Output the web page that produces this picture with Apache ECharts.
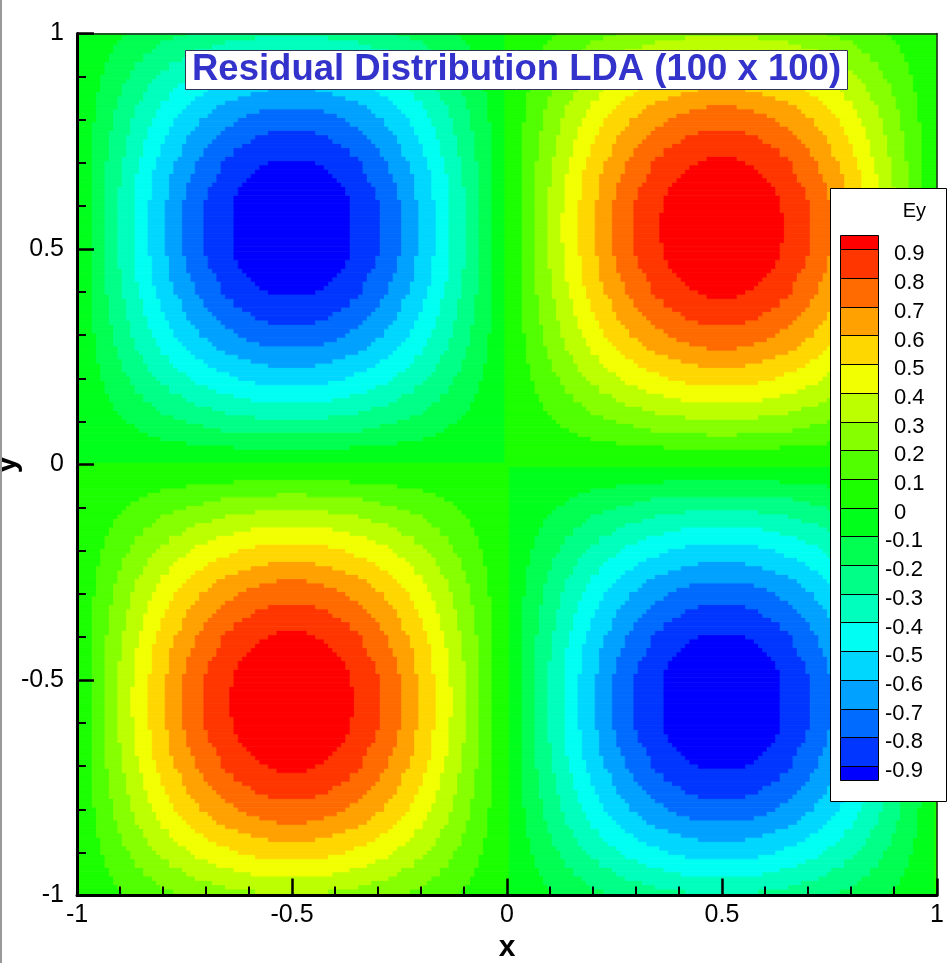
<!DOCTYPE html>
<html>
<head>
<meta charset="utf-8">
<script src="https://cdn.jsdelivr.net/npm/echarts@6/dist/echarts.min.js"></script>
<style>
html,body{margin:0;padding:0;background:#fff;}
#c{width:949px;height:963px;}
</style>
</head>
<body>
<div id="c"></div>
<script>
// ---------------- DATA ----------------
const chartTitle = 'Residual Distribution LDA (100 x 100)';
const legendTitle = 'Ey';
const xName = 'x';
const yName = 'y';
const xTicks = [-1, -0.5, 0, 0.5, 1];
const yTicks = [-1, -0.5, 0, 0.5, 1];

// contour levels shown in the legend
const levels = [-0.9, -0.8, -0.7, -0.6, -0.5, -0.4, -0.3, -0.2, -0.1, 0, 0.1, 0.2, 0.3, 0.4, 0.5, 0.6, 0.7, 0.8, 0.9];
// band colours, lowest band (< -0.9) first, highest band (>= 0.9) last
const levelColors = ['#0000FF', '#0036FF', '#006BFF', '#00A1FF', '#00D7FF', '#00FFF2', '#00FFBC', '#00FF86', '#00FF51', '#00FF1B',
                     '#1BFF00', '#51FF00', '#86FF00', '#BCFF00', '#F2FF00', '#FFD700', '#FFA100', '#FF6B00', '#FF3600', '#FF0000'];

// mesh: nodes from -1 to 1 with step 0.01
const meshMin = -1;
const meshStep = 0.01;

// Ey profile along x (read along the rows through the extrema), x = -1 .. 1
const xProfile = [
 0,-.03,-.06,-.09,-.13,-.16,-.19,-.22,-.25,-.28,
 -.31,-.34,-.37,-.4,-.43,-.45,-.48,-.51,-.54,-.56,
 -.59,-.61,-.64,-.66,-.68,-.71,-.73,-.75,-.77,-.79,
 -.81,-.83,-.84,-.86,-.88,-.89,-.9,-.92,-.93,-.94,
 -.95,-.96,-.97,-.98,-.98,-.99,-.99,-1,-1,-1,
 -1,
 -1,-1,-1,-.99,-.99,-.98,-.98,-.97,-.96,-.95,
 -.94,-.93,-.92,-.9,-.89,-.88,-.86,-.84,-.83,-.81,
 -.79,-.77,-.75,-.73,-.71,-.68,-.66,-.64,-.61,-.59,
 -.56,-.54,-.51,-.48,-.45,-.43,-.4,-.37,-.34,-.31,
 -.28,-.25,-.22,-.19,-.16,-.13,-.09,-.06,-.03,0,
 .03,.06,.09,.13,.16,.19,.22,.25,.28,.31,
 .34,.37,.4,.43,.45,.48,.51,.54,.56,.59,
 .61,.64,.66,.68,.71,.73,.75,.77,.79,.81,
 .83,.84,.86,.88,.89,.9,.92,.93,.94,.95,
 .96,.97,.98,.98,.99,.99,1,1,1,1,
 1,1,1,.99,.99,.98,.98,.97,.96,.95,
 .94,.93,.92,.9,.89,.88,.86,.84,.83,.81,
 .79,.77,.75,.73,.71,.68,.66,.64,.61,.59,
 .56,.54,.51,.48,.45,.43,.4,.37,.34,.31,
 .28,.25,.22,.19,.16,.13,.09,.06,.03,0
];

// Ey profile along y (read along the columns through the extrema), y = -1 .. 1
const yProfile = [
 -.28,-.31,-.34,-.36,-.39,-.42,-.44,-.47,-.49,-.52,
 -.54,-.56,-.59,-.61,-.63,-.65,-.68,-.7,-.72,-.74,
 -.76,-.77,-.79,-.81,-.83,-.84,-.86,-.87,-.88,-.9,
 -.91,-.92,-.93,-.94,-.95,-.96,-.97,-.97,-.98,-.99,
 -.99,-.99,-1,-1,-1,-1,
 -1,-1,-1,-.99,-.99,-.99,-.98,-.97,-.97,-.96,
 -.95,-.94,-.93,-.92,-.91,-.9,-.88,-.87,-.86,-.84,
 -.83,-.81,-.79,-.77,-.76,-.74,-.72,-.7,-.68,-.65,
 -.63,-.61,-.59,-.56,-.54,-.52,-.49,-.47,-.44,-.42,
 -.39,-.36,-.34,-.31,-.28,-.25,-.23,-.2,-.17,-.14,
 -.11,-.09,-.06,-.03,
 0,
 .03,.06,.09,.11,.14,.17,.2,.23,.25,.28,
 .31,.34,.36,.39,.42,.44,.47,.49,.52,.54,
 .56,.59,.61,.63,.65,.68,.7,.72,.74,.76,
 .77,.79,.81,.83,.84,.86,.87,.88,.9,.91,
 .92,.93,.94,.95,.96,.97,.97,.98,.99,.99,
 .99,1,1,1,1,
 1,1,1,.99,.99,.99,.98,.97,.97,.96,
 .95,.94,.93,.92,.91,.9,.88,.87,.86,.84,
 .83,.81,.79,.77,.76,.74,.72,.7,.68,.65,
 .63,.61,.59,.56,.54,.52,.49,.47,.44,.42,
 .39,.36,.34,.31,.28
];

// ---------------- build the cell table ----------------
function bandOf(v) {
  let k = 0;
  for (const L of levels) if (v >= L - 1e-9) k++;
  return k;
}
const runs = [];
for (let j = 0; j < yProfile.length; j++) {
  const yc = meshMin + j * meshStep;
  const y0 = Math.max(-1, yc - meshStep / 2), y1 = Math.min(1, yc + meshStep / 2);
  let i0 = 0, b0 = bandOf(xProfile[0] * yProfile[j]);
  for (let i = 1; i <= xProfile.length; i++) {
    const b = i < xProfile.length ? bandOf(xProfile[i] * yProfile[j]) : -1;
    if (b !== b0) {
      const xa = Math.max(-1, meshMin + i0 * meshStep - meshStep / 2);
      const xb = Math.min(1, meshMin + (i - 1) * meshStep + meshStep / 2);
      runs.push([xa, xb, y0, y1, xProfile[i0] * yProfile[j], b0]);
      i0 = i; b0 = b;
    }
  }
}

// ---------------- chart ----------------
const FONT = '"Liberation Sans", Arial, Helvetica, sans-serif';
const chart = echarts.init(document.getElementById('c'), null, {renderer: 'canvas', width: 949, height: 963});

// legend (Tecplot style contour legend)
const LZ = 100;
const lgX = 830, lgY = 188, lgW = 116, lgH = 613, barX = 840, barW = 38, barTop = 235, rowH = 28.7;
const legendElements = [
  {type: 'rect', z: LZ, shape: {x: lgX + 0.5, y: lgY + 0.5, width: lgW, height: lgH}, style: {fill: '#fff', stroke: '#000', lineWidth: 1}},
  {type: 'text', z: LZ + 1, x: 926, y: 211, style: {text: legendTitle, font: '20px ' + FONT, fill: '#000', align: 'right', verticalAlign: 'middle', textAlign: 'right', textVerticalAlign: 'middle'}}
];
const nBands = levelColors.length;
for (let r = 0; r < nBands; r++) {
  const k = nBands - 1 - r;
  const yTop = r === 0 ? barTop : barTop + rowH / 2 + (r - 1) * rowH;
  const yBot = r === nBands - 1 ? barTop + (nBands - 1) * rowH : barTop + rowH / 2 + r * rowH;
  legendElements.push({type: 'rect', z: LZ + 1, shape: {x: barX + 0.5, y: Math.round(yTop) + 0.5, width: barW, height: Math.round(yBot) - Math.round(yTop)},
    style: {fill: levelColors[k], stroke: '#000', lineWidth: 1}});
}
for (let m = 0; m < levels.length; m++) {
  const lv = levels[levels.length - 1 - m];
  const yb = barTop + rowH / 2 + m * rowH;
  legendElements.push({type: 'text', z: LZ + 1, x: lv < 0 ? 885 : 894, y: yb + 5,
    style: {text: String(lv), font: '22px ' + FONT, fill: '#000', align: 'left', verticalAlign: 'middle', textAlign: 'left', textVerticalAlign: 'middle'}});
}

function mainAxis(extra) {
  return Object.assign({
    type: 'value', min: -1, max: 1, interval: 0.5, z: 10,
    axisLine: {show: true, onZero: false, lineStyle: {color: '#000', width: 3}},
    axisTick: {show: true, inside: true, length: 17, lineStyle: {color: '#000', width: 2.5}},
    minorTick: {show: true, splitNumber: 5, length: 9, lineStyle: {color: '#000', width: 2}},
    splitLine: {show: false},
    minorSplitLine: {show: false}
  }, extra);
}
function frameAxis(pos) {
  return {
    type: 'value', min: -1, max: 1, interval: 0.5, position: pos, z: 10,
    axisLine: {show: true, onZero: false, lineStyle: {color: '#222', width: 1.5}},
    axisTick: {show: false}, axisLabel: {show: false}, splitLine: {show: false}
  };
}

const option = {
  backgroundColor: '#fff',
  animation: false,
  title: {
    text: chartTitle, left: 185, top: 51,
    padding: [1, 7, 1, 7],
    backgroundColor: '#fff', borderColor: '#333355', borderWidth: 1,
    textStyle: {fontFamily: FONT, fontSize: 36.5, fontWeight: 'bold', color: '#3333CC', lineHeight: 36},
    z: 20
  },
  grid: {left: 77, right: 12, top: 33.5, bottom: 67.5, containLabel: false, outerBoundsMode: 'none', show: false},
  xAxis: [
    mainAxis({
      position: 'bottom',
      axisLabel: {show: true, customValues: xTicks, margin: 7, fontFamily: FONT, fontSize: 25, color: '#000', showMinLabel: true, showMaxLabel: true},
      name: xName, nameLocation: 'middle', nameGap: 32,
      nameTextStyle: {fontFamily: FONT, fontSize: 30, fontWeight: 'bold', color: '#000'}
    }),
    frameAxis('top')
  ],
  yAxis: [
    mainAxis({
      position: 'left',
      axisLabel: {show: true, customValues: yTicks, margin: 13, fontFamily: FONT, fontSize: 25, color: '#000', showMinLabel: true, showMaxLabel: true},
      name: yName, nameLocation: 'middle', nameGap: 55, nameRotate: 90, nameMoveOverlap: false,
      nameTextStyle: {fontFamily: FONT, fontSize: 32, fontWeight: 'bold', color: '#000'}
    }),
    frameAxis('right')
  ],
  series: [{
    type: 'custom',
    coordinateSystem: 'cartesian2d',
    xAxisIndex: 0, yAxisIndex: 0,
    data: runs,
    encode: {x: [0, 1], y: [2, 3]},
    clip: true,
    silent: true,
    z: 1,
    renderItem: function (params, api) {
      const p0 = api.coord([api.value(0), api.value(3)]);
      const p1 = api.coord([api.value(1), api.value(2)]);
      const c = levelColors[api.value(5)];
      return {
        type: 'rect',
        shape: {x: p0[0], y: p0[1], width: p1[0] - p0[0], height: p1[1] - p0[1]},
        style: {fill: c, stroke: c, lineWidth: 0.8}
      };
    }
  }],
  graphic: [
    {type: 'line', z: 50, shape: {x1: 1, y1: 0, x2: 1, y2: 963}, style: {stroke: '#999', lineWidth: 2}}
  ].concat(legendElements)
};
chart.setOption(option);
</script>
</body>
</html>
